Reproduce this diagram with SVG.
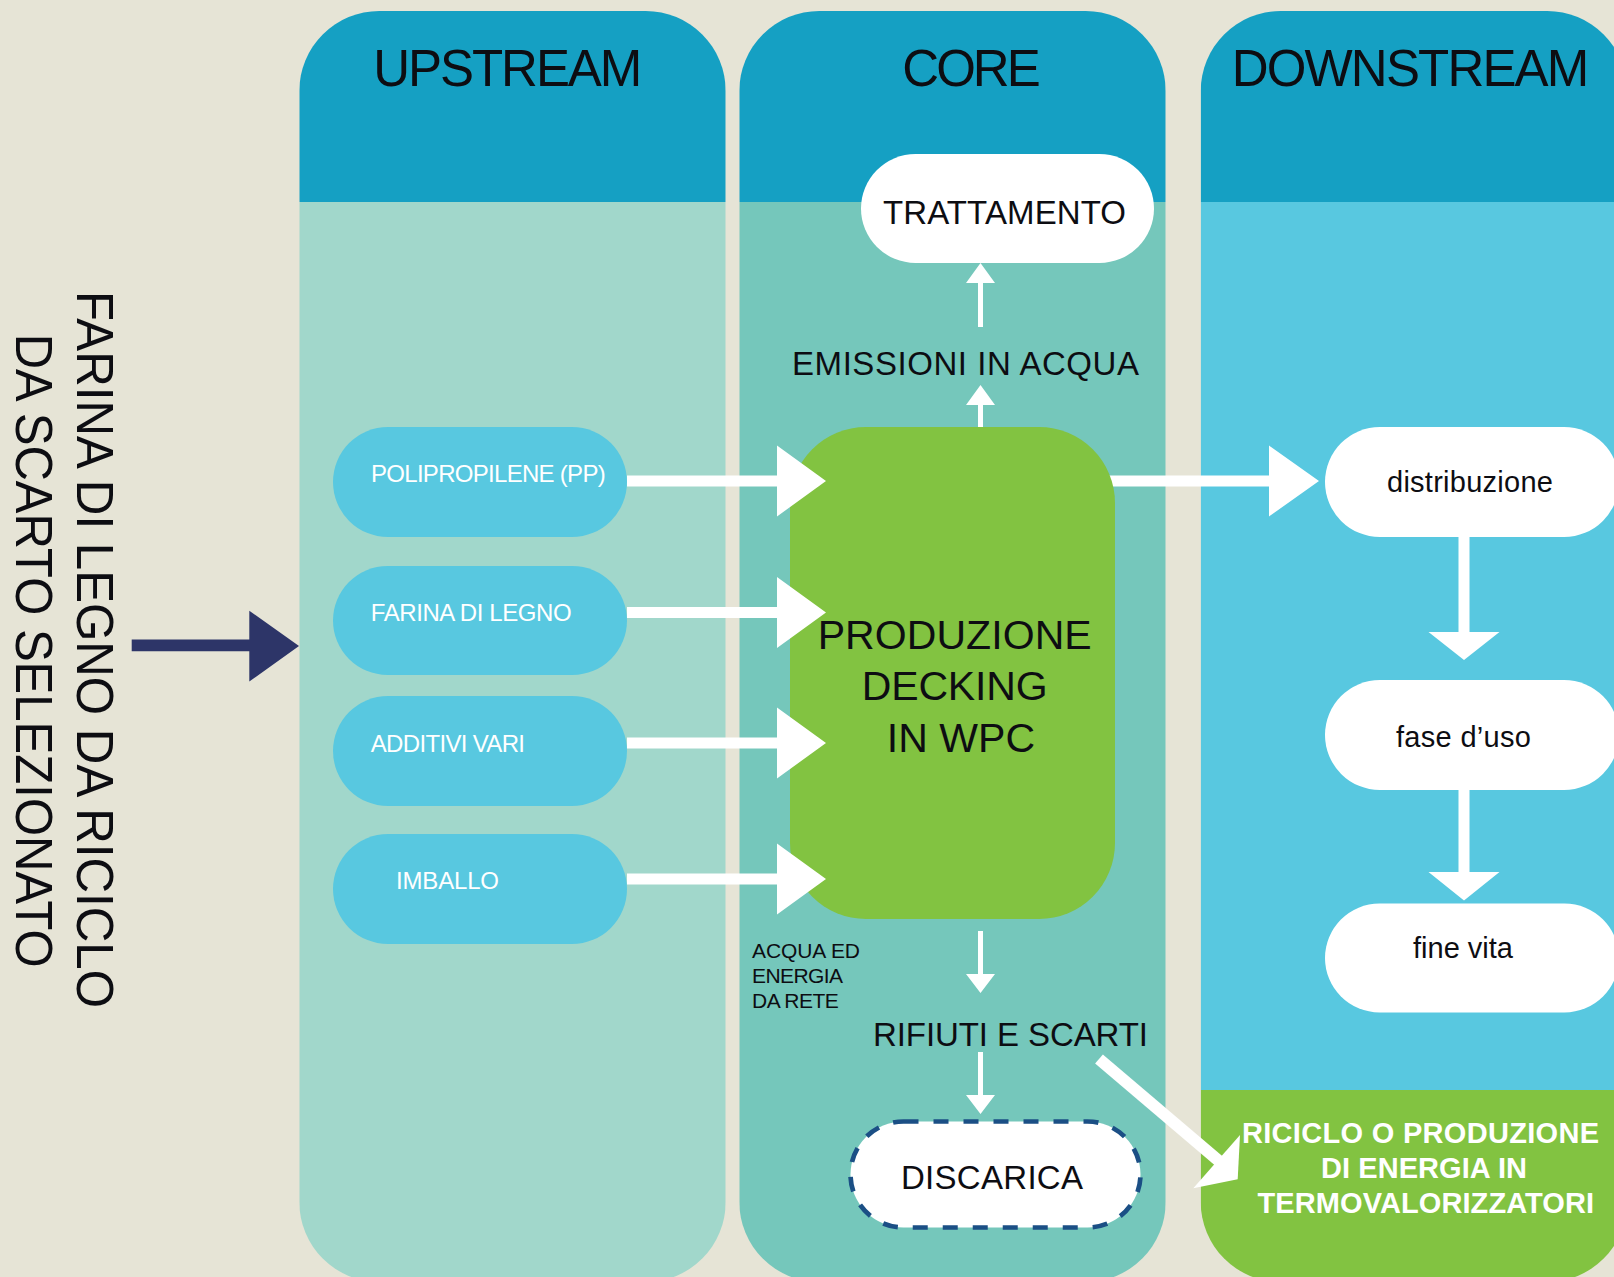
<svg xmlns="http://www.w3.org/2000/svg" width="1614" height="1277" viewBox="0 0 1614 1277">
<style>
text{font-family:"Liberation Sans",Arial,Helvetica,sans-serif;}
.hd{font-size:51px;fill:#0d0d12;}
.lb{font-size:33px;fill:#0d0d12;}
.sm{font-size:21px;fill:#0d0d12;}
.pt{font-size:24px;fill:#ffffff;}
.dt{font-size:29px;fill:#0d0d12;}
.bw{font-size:29px;font-weight:bold;fill:#ffffff;}
.vt{font-size:52px;fill:#0d0d12;}
.wa{fill:#ffffff;}
.up{fill:#58c8e0;}
.wp{fill:#ffffff;}
</style>
<defs>
<clipPath id="cU"><rect x="299.3" y="11" width="426.4" height="1271" rx="80"/></clipPath>
<clipPath id="cC"><rect x="739.3" y="11" width="426.4" height="1271" rx="80"/></clipPath>
<clipPath id="cD"><rect x="1200.7" y="11" width="426.4" height="1271" rx="80"/></clipPath>
</defs>
<rect x="0" y="0" width="1614" height="1277" fill="#e6e4d6"/>

<g id="col-upstream">
<g clip-path="url(#cU)">
<rect x="299.3" y="11" width="426.4" height="191" fill="#15a0c3"/>
<rect x="299.3" y="202" width="426.4" height="1080" fill="#a1d7cb"/>
</g>
<text class="hd" x="373.3" y="86" textLength="269">UPSTREAM</text>
</g>
<g id="col-core">
<g clip-path="url(#cC)">
<rect x="739.3" y="11" width="426.4" height="191" fill="#15a0c3"/>
<rect x="739.3" y="202" width="426.4" height="1080" fill="#75c7bb"/>
</g>
<text class="hd" x="902.3" y="86" textLength="138.4">CORE</text>
</g>
<g id="col-downstream">
<g clip-path="url(#cD)">
<rect x="1200.7" y="11" width="426.4" height="191" fill="#15a0c3"/>
<rect x="1200.7" y="202" width="426.4" height="888" fill="#58c8e0"/>
<rect x="1200.7" y="1090" width="426.4" height="192" fill="#82c341"/>
</g>
<text class="hd" x="1231.7" y="86" textLength="357.6">DOWNSTREAM</text>
</g>

<g id="source-label">
<text class="vt" transform="translate(77.3,291) rotate(90)" x="0" y="0" textLength="717" lengthAdjust="spacingAndGlyphs">FARINA DI LEGNO DA RICICLO</text>
<text class="vt" transform="translate(16,333.7) rotate(90)" x="0" y="0" textLength="634" lengthAdjust="spacingAndGlyphs">DA SCARTO SELEZIONATO</text>
</g>

<g id="n-pp">
<rect class="up" x="333" y="427" width="294" height="110" rx="55"/>
<text class="pt" x="371" y="482.3" textLength="234.7">POLIPROPILENE (PP)</text>
</g>
<g id="n-farina">
<rect class="up" x="333" y="566" width="294" height="109" rx="54.5"/>
<text class="pt" x="370.7" y="620.7" textLength="201">FARINA DI LEGNO</text>
</g>
<g id="n-additivi">
<rect class="up" x="333" y="696" width="294" height="110" rx="55"/>
<text class="pt" x="370.7" y="751.6" textLength="154.3">ADDITIVI VARI</text>
</g>
<g id="n-imballo">
<rect class="up" x="333" y="834" width="294" height="110" rx="55"/>
<text class="pt" x="396" y="889.3" textLength="103">IMBALLO</text>
</g>

<g id="n-trattamento">
<rect class="wp" x="861" y="154" width="293" height="109" rx="54.5"/>
<text class="lb" x="883" y="224" textLength="243">TRATTAMENTO</text>
</g>
<g id="n-emissioni">
<text class="lb" x="792" y="375" textLength="347">EMISSIONI IN ACQUA</text>
</g>
<g id="n-acqua">
<text class="sm" x="752" y="958" textLength="108">ACQUA ED</text>
<text class="sm" x="752" y="983" textLength="91">ENERGIA</text>
<text class="sm" x="752" y="1008" textLength="86.7">DA RETE</text>
</g>
<g id="n-rifiuti">
<text class="lb" x="873" y="1046" textLength="275">RIFIUTI E SCARTI</text>
</g>
<g id="n-discarica">
<rect x="850.5" y="1121.5" width="290" height="106" rx="53" fill="#ffffff" stroke="#1b4f85" stroke-width="4.7" stroke-dasharray="15 15"/>
<text class="lb" x="901" y="1189" textLength="182">DISCARICA</text>
</g>

<g id="n-distribuzione">
<rect class="wp" x="1325" y="427" width="294" height="110" rx="55"/>
<text class="dt" x="1387" y="491.9" textLength="166">distribuzione</text>
</g>
<g id="n-fase">
<rect class="wp" x="1325" y="680" width="294" height="110" rx="55"/>
<text class="dt" x="1396" y="746.9" textLength="135">fase d’uso</text>
</g>
<g id="n-fine">
<rect class="wp" x="1325" y="903.5" width="294" height="109" rx="54.5"/>
<text class="dt" x="1413" y="957.6" textLength="100">fine vita</text>
</g>
<g id="n-riciclo">
<text class="bw" x="1242" y="1143" textLength="357">RICICLO O PRODUZIONE</text>
<text class="bw" x="1321" y="1178" textLength="206">DI ENERGIA IN</text>
<text class="bw" x="1257.5" y="1213" textLength="336.6">TERMOVALORIZZATORI</text>
</g>

<g id="connectors-under">
<path class="wa" d="M1100,475.5 H1269 V445.5 L1319,481 L1269,516.5 V486.5 H1100 Z"/>
<path class="wa" d="M978,440 V405 H966 L980.5,385 L995,405 H983 V440 Z"/>
</g>

<g id="n-produzione">
<rect x="790" y="427" width="325" height="492" rx="76" fill="#82c341"/>
<text class="lb" style="font-size:41px" x="817.7" y="649.3" textLength="274">PRODUZIONE</text>
<text class="lb" style="font-size:41px" x="861.7" y="700" textLength="186">DECKING</text>
<text class="lb" style="font-size:41px" x="886.7" y="751.7" textLength="148.3">IN WPC</text>
</g>

<g id="connectors">
<path d="M131.7,639.5 H249.3 V610.7 L299,646 L249.3,681.5 V651.3 H131.7 Z" fill="#2d3568"/>
<path class="wa" d="M627,475.5 H777 V445.5 L826,481 L777,516.5 V486.5 H627 Z"/>
<path class="wa" d="M627,607 H777 V577 L826,612.5 L777,648 V618 H627 Z"/>
<path class="wa" d="M627,737.5 H777 V707.5 L826,743 L777,778.5 V748.5 H627 Z"/>
<path class="wa" d="M627,873.5 H777 V843.5 L826,879 L777,914.5 V884.5 H627 Z"/>
<path class="wa" d="M978,327 V283 H966 L980.5,263 L995,283 H983 V327 Z"/>
<path class="wa" d="M978,931 V974 H966 L980.5,993 L995,974 H983 V931 Z"/>
<path class="wa" d="M978,1052 V1095 H966 L980.5,1114 L995,1095 H983 V1052 Z"/>
<path class="wa" d="M1458.5,536 V632 H1428.5 L1464,660 L1499.5,632 H1469.5 V536 Z"/>
<path class="wa" d="M1458.5,789 V872 H1428.5 L1464,900.5 L1499.5,872 H1469.5 V789 Z"/>
<line x1="1099" y1="1059" x2="1226" y2="1167" stroke="#ffffff" stroke-width="12"/>
<polygon class="wa" points="1240,1135 1237.7,1179.3 1193.3,1188.3"/>
</g>
</svg>
